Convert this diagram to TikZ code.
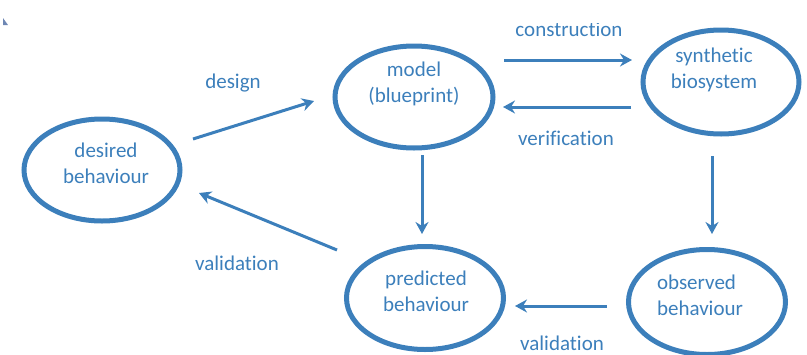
\documentclass[tikz,border=0pt]{standalone}
\usepackage{fontspec}
\setmainfont{Carlito}[Ligatures=NoCommon]
\usetikzlibrary{shapes.geometric,arrows.meta}
\definecolor{cycleblue}{RGB}{60,127,187}
\definecolor{cornermark}{RGB}{110,135,180}
\tikzset{
  stage/.style={draw=cycleblue, line width=5pt, ellipse, inner sep=0pt},
  stagetext/.style={text=cycleblue, align=center, inner sep=0pt,
    font=\fontsize{21}{26}\selectfont},
  flowlabel/.style={text=cycleblue, inner sep=0pt,
    font=\fontsize{21}{26}\selectfont},
  flow/.style={draw=cycleblue, line width=3pt,
    -{Stealth[length=12pt, width=13pt, inset=4pt]}},
}
\begin{document}
\begin{tikzpicture}[x=1pt, y=-1pt]
  \useasboundingbox (0,0) rectangle (807,354);

  % small mark in the top left corner
  \fill[cornermark] (3,18) -- (3,25) -- (8,25) -- cycle;

  % the five stages of the design cycle
  \node[stage, minimum width=156pt, minimum height=102pt] (desired) at (102,170) {};
  \node[stage, minimum width=158pt, minimum height=102pt] (model) at (414,97) {};
  \node[stage, minimum width=156pt, minimum height=104pt] (synth) at (721,82) {};
  \node[stage, minimum width=157pt, minimum height=103pt] (predicted) at (425,298) {};
  \node[stage, minimum width=157pt, minimum height=105pt] (observed) at (707,302) {};

  % stage names
  \node[stagetext] (desiredT) at (106,163) {desired\\behaviour};
  \node[stagetext] (modelT) at (414,84) {model\\(blueprint)};
  \node[stagetext] (synthT) at (714,70) {synthetic\\biosystem};
  \node[stagetext] (predictedT) at (426,291) {predicted\\behaviour};
  \node[stagetext, align=left] (observedT) at (700,295) {observed\\behaviour};

  % arrow end points
  \coordinate (designS) at (193,139);
  \coordinate (designE) at (314,101);
  \coordinate (valAS) at (337,250);
  \coordinate (valAE) at (199,193);
  \coordinate (consS) at (504,60);
  \coordinate (consE) at (632,60);
  \coordinate (verS) at (631,107);
  \coordinate (verE) at (503,107);
  \coordinate (predS) at (422,155);
  \coordinate (predE) at (422,234);
  \coordinate (obsS) at (712,156);
  \coordinate (obsE) at (712,234);
  \coordinate (valBS) at (607,306);
  \coordinate (valBE) at (515,306);

  \draw[flow] (designS) -- (designE);
  \draw[flow] (valAS) -- (valAE);
  \draw[flow] (consS) -- (consE);
  \draw[flow] (verS) -- (verE);
  \draw[flow] (predS) -- (predE);
  \draw[flow] (obsS) -- (obsE);
  \draw[flow] (valBS) -- (valBE);

  % arrow labels
  \node[flowlabel] (designL) at (233,83) {design};
  \node[flowlabel] (valAL) at (237,263) {validation};
  \begin{scope}
    \clip (500,23) rectangle (650,50);
    \node[flowlabel] (consL) at (569,29) {construction};
  \end{scope}
  \node[flowlabel] (verL) at (566,138) {verification};
  \node[flowlabel] (valBL) at (562,343) {validation};
\end{tikzpicture}
\end{document}
